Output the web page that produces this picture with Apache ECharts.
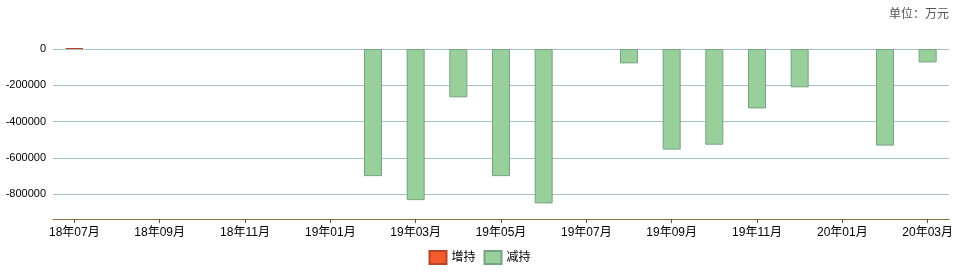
<!DOCTYPE html>
<html><head><meta charset="utf-8">
<script src="https://cdn.jsdelivr.net/npm/echarts@6/dist/echarts.min.js"></script>
<style>html,body{margin:0;padding:0;background:#fff}#c{width:959px;height:278px}</style>
</head><body><div id="c"></div>
<script>
const categories = ['18年07月','18年08月','18年09月','18年10月','18年11月','18年12月','19年01月','19年02月','19年03月','19年04月','19年05月','19年06月','19年07月','19年08月','19年09月','19年10月','19年11月','19年12月','20年01月','20年02月','20年03月'];
const increaseValues = [5000,null,null,null,null,null,null,null,null,null,null,null,null,null,null,null,null,null,null,null,null];
const decreaseValues = [null,null,null,null,null,null,null,-700000,-832000,-266000,-700000,-850000,null,-79000,-554000,-527000,-327000,-211000,null,-532000,-74000];
const seriesNames = ['增持','减持'];
const unitText = '单位：万元';

const fontFam = '"Liberation Sans", Arial, "Noto Sans CJK SC", sans-serif';
const chart = echarts.init(document.getElementById('c'), null, {renderer:'canvas'});
chart.setOption({
  animation:false,
  backgroundColor:'#fff',
  title:{text:unitText, right:5, top:2, textStyle:{fontSize:12, fontWeight:'normal', color:'#555', fontFamily:'"Noto Sans CJK SC", sans-serif'}},
  legend:{data:seriesNames, bottom:8, left:'center', icon:'rect', itemWidth:17, itemHeight:13, itemGap:8, textStyle:{fontSize:12, color:'#000', fontFamily:fontFam}},
  grid:{left:53, right:10, top:49, bottom:59, containLabel:false},
  xAxis:{type:'category', data:categories, boundaryGap:true,
    axisLine:{show:true, onZero:false, lineStyle:{color:'#85703c', width:1}},
    axisTick:{show:true, interval:1, alignWithLabel:true, length:4, lineStyle:{color:'#555'}},
    axisLabel:{interval:1, fontSize:12, color:'#000', margin:8, fontFamily:fontFam},
    splitLine:{show:false}},
  yAxis:{type:'value', min:-936000, max:0, splitNumber:5,
    axisLine:{show:false}, axisTick:{show:false},
    axisLabel:{fontSize:11, color:'#000', margin:7, showMinLabel:false, fontFamily:fontFam, formatter:function(v){return String(v);}},
    splitLine:{lineStyle:{color:'#a6c3cc', width:1}}},
  series:[
    {name:seriesNames[0], type:'bar', stack:'s', barWidth:18, clip:false, data:increaseValues,
      itemStyle:{color:'#f45a2c', borderColor:'#b8452a', borderWidth:1}},
    {name:seriesNames[1], type:'bar', stack:'s', barWidth:18, data:decreaseValues,
      itemStyle:{color:'#98cf9b', borderColor:'#76a383', borderWidth:1}}
  ]
});
</script></body></html>
